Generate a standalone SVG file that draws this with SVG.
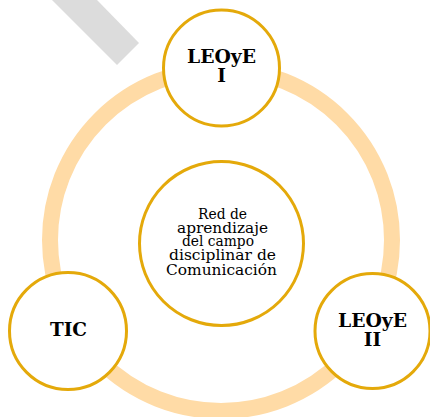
<svg xmlns="http://www.w3.org/2000/svg" width="430" height="417" viewBox="0 0 430 417">
<style>
.node{fill:#ffffff;stroke:#e4a90a;stroke-width:3}
.lbl{font-family:"DejaVu Serif","Liberation Serif",serif;font-weight:bold;font-size:18.5px;fill:#000;text-anchor:middle}
.ctr{font-family:"DejaVu Serif","Liberation Serif",serif;font-size:14.5px;fill:#000;text-anchor:middle}
</style>
<rect width="430" height="417" fill="#ffffff"/>
<polygon points="52,0 97,0 139,43 117,65" fill="#dcdcdc"/>
<g id="connectors">
<circle cx="221" cy="240" r="171" fill="none" stroke="#ffdba6" stroke-width="16"/>
</g>
<g id="node-leoye1">
<circle class="node" cx="221.5" cy="68" r="58"/>
<text class="lbl" x="221.5" y="63" textLength="69" lengthAdjust="spacingAndGlyphs">LEOyE</text>
<text class="lbl" x="221.5" y="82">I</text>
</g>
<g id="node-center">
<circle class="node" cx="221.5" cy="243.5" r="82"/>
<text class="ctr" x="222.5" y="219" textLength="49" lengthAdjust="spacingAndGlyphs">Red de</text>
<text class="ctr" x="222.5" y="232.5" textLength="91" lengthAdjust="spacingAndGlyphs">aprendizaje</text>
<text class="ctr" x="218" y="246" textLength="72" lengthAdjust="spacingAndGlyphs">del campo</text>
<text class="ctr" x="222.5" y="260" textLength="107" lengthAdjust="spacingAndGlyphs">disciplinar de</text>
<text class="ctr" x="221.5" y="275" textLength="111" lengthAdjust="spacingAndGlyphs">Comunicación</text>
</g>
<g id="node-tic">
<circle class="node" cx="68" cy="331" r="58.5"/>
<text class="lbl" x="68.5" y="336" textLength="37" lengthAdjust="spacingAndGlyphs">TIC</text>
</g>
<g id="node-leoye2">
<circle class="node" cx="372.5" cy="331" r="57.5"/>
<text class="lbl" x="372.5" y="327" textLength="69" lengthAdjust="spacingAndGlyphs">LEOyE</text>
<text class="lbl" x="372.5" y="346">II</text>
</g>
</svg>
